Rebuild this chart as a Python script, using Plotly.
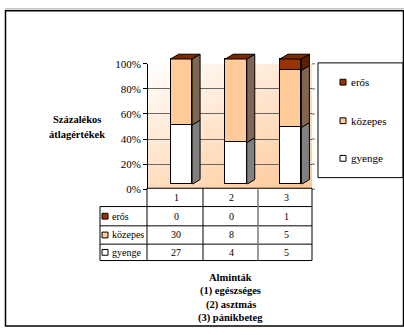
import plotly.graph_objects as go

# --- data -------------------------------------------------------------
categories = ["1", "2", "3"]
eros = [0, 0, 1]
kozepes = [30, 8, 5]
gyenge = [27, 4, 5]
series_names = ["erős", "közepes", "gyenge"]
y_ticks = [0, 0.2, 0.4, 0.6, 0.8]
y_top_tick = [1.0]
y_title_lines = ["Százalékos", "átlagértékek"]
x_title_lines = ["Alminták", "(1) egészséges", "(2) asztmás", "(3) pánikbeteg"]

# --- styling ----------------------------------------------------------
W, H = 404, 335
FONT = "Liberation Serif, Times New Roman, Times, serif"
front_col = {"erős": "#993300", "közepes": "#FFCC99", "gyenge": "#FFFFFF"}
side_col = {"erős": "#5c1f00", "közepes": "#806650", "gyenge": "#808080"}
top_col = "#7a2a00"


def fx(p):
    return p / W


def fy(p):
    return 1 - p / H


counts = {"erős": eros, "közepes": kozepes, "gyenge": gyenge}
stack_order = ["gyenge", "közepes", "erős"]
totals = [sum(counts[n][i] for n in stack_order) for i in range(len(categories))]
shares = {n: [v / t for v, t in zip(counts[n], totals)] for n in stack_order}
positions = list(range(1, len(categories) + 1))

# wall (back plane) and bar area, in pixels
WL, WR, WT, WB = 148, 312, 60, 190
BL, BR, B0, B100 = 154, 318, 185, 55
px_per_unit_y = B0 - B100
bar_top_range = 1.1
px_per_cat = (BR - BL) / 3.0
bar_w = 21.5 / px_per_cat
dx = 8 / px_per_cat
dy = 5 / px_per_unit_y

fig = go.Figure()

# gradient back wall
fig.add_trace(go.Heatmap(
    x=[0, 1], y=[0, 1], z=[[0.6, 1.0], [0.0, 0.45]],
    colorscale=[[0, "#ffffff"], [1, "#ffc795"]], zmin=0, zmax=1,
    zsmooth="best", showscale=False, hoverinfo="skip",
    xaxis="x", yaxis="y"))

# grid subplot carriers
fig.add_trace(go.Scatter(x=[0.5, 3.5], y=[0, 0], mode="lines",
                         line=dict(width=0), hoverinfo="skip",
                         showlegend=False, xaxis="x2", yaxis="y2"))
fig.add_trace(go.Scatter(x=[0.5, 3.5], y=[0, 0], mode="lines",
                         line=dict(width=0), hoverinfo="skip",
                         showlegend=False, xaxis="x2", yaxis="y4"))

# front faces of the stacked columns
for n in stack_order:
    fig.add_trace(go.Bar(
        x=positions, y=shares[n], width=bar_w, name=n,
        marker=dict(color=front_col[n], line=dict(color="#000000", width=1)),
        showlegend=False, hoverinfo="skip", xaxis="x3", yaxis="y3"))

# side and top faces derived from the stacked values
side_polys = {n: ([], []) for n in stack_order}
top_x, top_y = [], []
for i, xc in enumerate(positions):
    xl, xr = xc - bar_w / 2, xc + bar_w / 2
    base = 0.0
    for n in stack_order:
        h = shares[n][i]
        if h > 0:
            px_, py_ = side_polys[n]
            px_ += [xr, xr + dx, xr + dx, xr, xr, None]
            py_ += [base, base + dy, base + h + dy, base + h, base, None]
        base += h
    top_x += [xl, xl + dx, xr + dx, xr, xl, None]
    top_y += [base, base + dy, base + dy, base, base, None]

for n in stack_order:
    sx, sy = side_polys[n]
    if sx:
        fig.add_trace(go.Scatter(
            x=sx, y=sy, mode="lines", fill="toself", fillcolor=side_col[n],
            line=dict(color="#000000", width=1), hoverinfo="skip",
            showlegend=False, xaxis="x3", yaxis="y3"))
fig.add_trace(go.Scatter(
    x=top_x, y=top_y, mode="lines", fill="toself", fillcolor=top_col,
    line=dict(color="#000000", width=1), hoverinfo="skip",
    showlegend=False, xaxis="x3", yaxis="y3"))

wall_dx = [fx(WL), fx(WR)]
wall_dy = [fy(WB), fy(WT)]
tickfont = dict(family=FONT, size=11, color="#000000")

fig.update_layout(
    width=W, height=H,
    margin=dict(l=0, r=0, t=0, b=0),
    paper_bgcolor="#ffffff", plot_bgcolor="rgba(0,0,0,0)",
    barmode="stack", bargap=0,
    showlegend=False,
    font=dict(family=FONT),
    xaxis=dict(domain=wall_dx, range=[0, 1], visible=False, fixedrange=True),
    yaxis=dict(domain=wall_dy, range=[0, 1], visible=False, fixedrange=True),
    xaxis2=dict(domain=wall_dx, range=[0.5, 3.5], visible=False, anchor="y2"),
    yaxis2=dict(domain=wall_dy, range=[0, 1], anchor="x2",
                tickvals=y_ticks, tickformat=".0%", tickfont=tickfont,
                showgrid=True, gridcolor="#666666", gridwidth=1,
                zeroline=False, showline=True, linecolor="#000000",
                linewidth=1, ticks="outside", ticklen=4, tickcolor="#000000"),
    yaxis4=dict(overlaying="y2", range=[0, 1], anchor="x2", side="left",
                tickvals=y_top_tick, tickformat=".0%", tickfont=tickfont,
                showgrid=True, gridcolor="#b8b8b8", gridwidth=1,
                zeroline=False, showline=False, ticks="outside", ticklen=4,
                tickcolor="#000000"),
    xaxis3=dict(domain=[fx(BL), fx(BR)], range=[0.5, 3.5], visible=False,
                anchor="y3"),
    yaxis3=dict(domain=[fy(B0), fy(B0 - bar_top_range * px_per_unit_y)],
                range=[0, bar_top_range], visible=False, anchor="x3"),
)

shapes = []
annotations = []


def line(x0, y0, x1, y1, color="#000000", width=1):
    shapes.append(dict(type="line", xref="paper", yref="paper",
                       x0=fx(x0), y0=fy(y0), x1=fx(x1), y1=fy(y1),
                       line=dict(color=color, width=width)))


def rect(x0, y0, x1, y1, fill, color="#000000", width=1):
    shapes.append(dict(type="rect", xref="paper", yref="paper",
                       x0=fx(x0), y0=fy(y0), x1=fx(x1), y1=fy(y1),
                       fillcolor=fill, line=dict(color=color, width=width)))


def text(x, y, s, size=10, anchor="center", bold=False):
    annotations.append(dict(
        xref="paper", yref="paper", x=fx(x), y=fy(y), text=f"<b>{s}</b>" if bold else s,
        showarrow=False, xanchor=anchor, yanchor="middle",
        font=dict(family=FONT, size=size, color="#000000")))


# outer frame
line(5, 3, 404, 3, color="#a0a0a0", width=1)
rect(5.5, 5, 403.5, 332, "rgba(0,0,0,0)", color="#000000", width=1.5)

# small tick marks on the right edge of the wall
for v in y_ticks + y_top_tick:
    yy = WB - v * (WB - WT)
    line(WR, yy, WR + 3, yy, color="#666666")

# data table
col_edges = [147, 203, 258, 312]
row_edges = [189, 208, 228, 247, 264]
label_left = 100
line(col_edges[0], row_edges[0], col_edges[-1], row_edges[0])
for y in row_edges[1:]:
    line(label_left, y, col_edges[-1], y)
line(label_left, row_edges[1], label_left, row_edges[-1])
for j, x in enumerate(col_edges):
    line(x, row_edges[0], x, row_edges[-1],
         color="#7a7a7a" if j == 2 else "#000000",
         width=1.5 if j == 2 else 1)

col_centers = [(a + b) / 2 for a, b in zip(col_edges[:-1], col_edges[1:])]
for c, xc in zip(categories, col_centers):
    text(xc + 1, (row_edges[0] + row_edges[1]) / 2, c)
for r, n in enumerate(series_names):
    yc = (row_edges[r + 1] + row_edges[r + 2]) / 2
    rect(102, yc - 3, 108, yc + 3, front_col[n])
    text(110, yc, n, anchor="left")
    for v, xc in zip(counts[n], col_centers):
        text(xc + 1, yc, str(v))

# legend
rect(318, 59, 403, 178, "rgba(0,0,0,0)", color="#000000", width=1)
for n, yc in zip(series_names, [79, 119, 158]):
    rect(340, yc - 3, 346, yc + 3, front_col[n])
    text(349, yc, n, size=11, anchor="left")

# axis titles
for k, s in enumerate(y_title_lines):
    text(77, 118 + 15 * k, s, size=10.5, bold=True)
for k, s in enumerate(x_title_lines):
    text(231, 282 + 13.8 * k, s, size=10.5, bold=True)

fig.update_layout(shapes=shapes, annotations=annotations)
fig.write_html("out.html")
